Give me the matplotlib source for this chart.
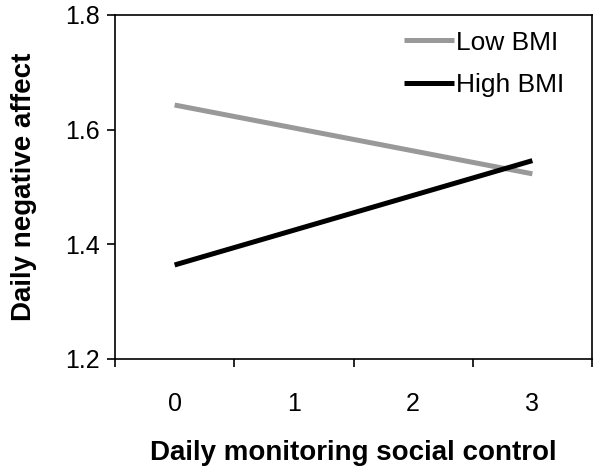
import matplotlib
matplotlib.use("Agg")
import matplotlib.pyplot as plt

# data
x_vals = [0, 3]
low_bmi = [1.643, 1.523]
high_bmi = [1.364, 1.546]
x_labels = ["0", "1", "2", "3"]
y_ticks = [1.2, 1.4, 1.6, 1.8]

plt.rcParams['font.family'] = ['Liberation Sans', 'DejaVu Sans']

fig = plt.figure(figsize=(6, 4.7), dpi=100)
ax = fig.add_axes([115 / 600, 1 - 359 / 470, 477 / 600, 344 / 470])

ax.plot(x_vals, low_bmi, color='#999999', lw=3.6, solid_capstyle='butt', label='Low BMI')
ax.plot(x_vals, high_bmi, color='black', lw=3.6, solid_capstyle='butt', label='High BMI')

ax.set_xlim(-0.5, 3.5)
ax.set_ylim(1.2, 1.8)
ax.set_yticks(y_ticks)
ax.set_yticklabels([f"{v:.1f}" for v in y_ticks], fontsize=18)

# ticks sit between categories, labels under the categories
ax.set_xticks([-0.5, 0.5, 1.5, 2.5, 3.5])
ax.set_xticklabels([])
ax.set_xticks(range(len(x_labels)), minor=True)
ax.set_xticklabels(x_labels, minor=True, fontsize=18)
ax.tick_params(axis='x', which='minor', length=0, pad=24)
ax.tick_params(axis='x', which='major', length=6, width=1.2, direction='out')
ax.tick_params(axis='y', length=6, width=1.2, direction='out', pad=5)
for s in ax.spines.values():
    s.set_linewidth(1.2)

ax.set_xlabel('Daily monitoring social control', fontsize=20, fontweight='bold', labelpad=17)
ax.set_ylabel('Daily negative affect', fontsize=20, fontweight='bold', labelpad=20)

ax.legend(loc='upper right', frameon=False, fontsize=19, handlelength=1.9,
          handletextpad=0.1, borderaxespad=0.0, labelspacing=0.7,
          bbox_to_anchor=(0.965, 0.985))

fig.savefig('out.png', dpi=100)
